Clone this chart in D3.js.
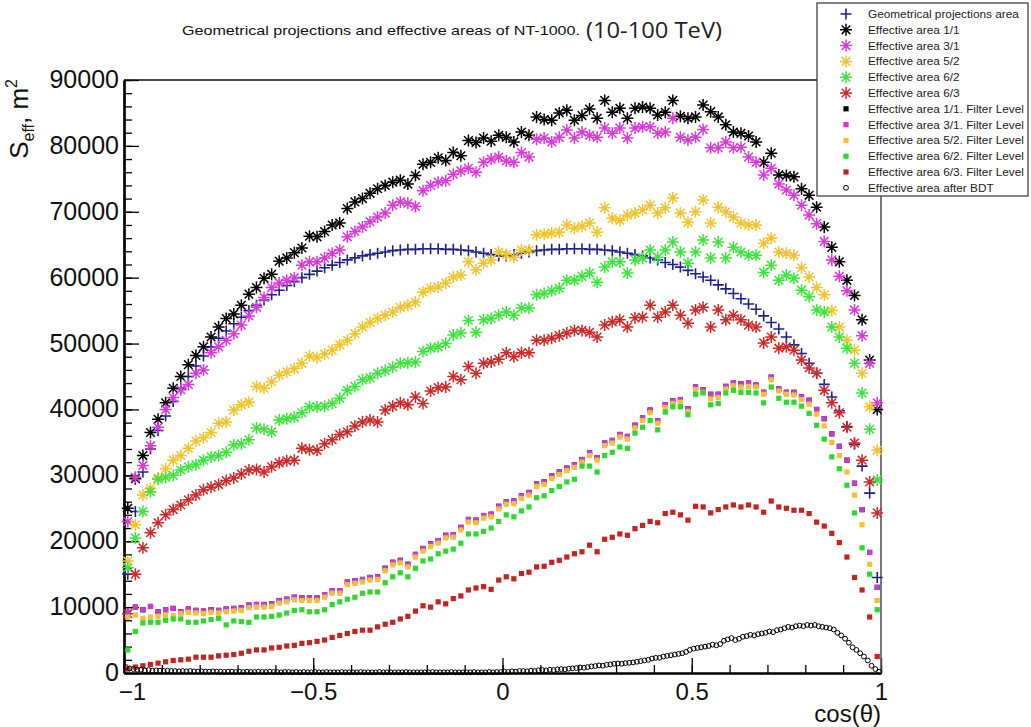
<!DOCTYPE html>
<html><head><meta charset="utf-8">
<script src="https://cdn.jsdelivr.net/npm/d3@7"></script>
<style>body{margin:0;background:#fff} svg{display:block}</style>
</head><body>
<svg id="c" width="1031" height="727"></svg>
<script>
// ---- data (values in thousands of m^2) ----
const geomArea=[15,24.5,30.5,34,36.8,39,41.2,43.2,45,46.6,48.1,49.5,50.8,51.9,53,54,55,55.8,56.6,57.4,58.1,58.8,59.4,60,60.5,61,61.5,61.9,62.3,62.7,63,63.3,63.5,63.7,63.9,64.1,64.2,64.3,64.3,64.4,64.4,64.4,64.3,64.3,64.2,64.1,63.9,63.7,63.5,63.3,
63.3,63.5,63.7,63.9,64.1,64.2,64.3,64.3,64.4,64.4,64.4,64.3,64.3,64.2,64.1,63.9,63.7,63.5,63.3,63,62.7,62.3,62,61.6,61.1,60.6,60.1,59.6,58.9,58.3,57.6,56.8,56,55.2,54.2,53.2,52.2,51,49.8,48.5,47,45.5,43.8,41.9,39.8,37.4,34.7,31.4,27.3,14.5];
const eff11=[25,29.5,33,36.5,38.5,41,43.2,45,46.8,48.2,49.5,51,52.5,53.8,54.5,55.8,57.5,58.5,59.9,60.5,62.5,63,63.8,64.5,66.3,66.2,67,68,68.3,70.5,71.5,72,72.8,73.5,74,74.5,74.8,74.2,75.5,77.2,77.5,78.2,77.8,79,78.5,80.8,80.5,81.2,80.7,81.6,
81.3,80.6,82.1,81.6,84.4,84,83.9,85,85.4,83.9,84.6,85.6,84.2,86.9,85.1,85.7,84.2,85.7,85.9,85.7,84.7,85.1,86.9,84.5,84.2,84.4,86.2,85.2,84.4,83.2,82.1,81.9,81.5,80.6,77.5,78.9,75.6,75.5,75.3,73.5,72.5,70.7,67.7,64.6,62.4,59.6,57.3,53.6,47.5,40];
const eff31=[23,29.7,31.5,34.5,37.3,40,41.8,43,43.8,45.5,46,48.6,49.5,50.5,51.5,52.8,54.2,55.5,57,58.5,59.2,59.6,60,61.9,62.4,62.4,63,63.7,64.2,66.2,67,67.7,68.5,69.2,69.8,71,71.5,71.3,70.8,73.2,74,74.5,74.7,75.7,76.2,76.6,76,77.5,78,78.3,
77.7,77.5,79,78.3,81,81.2,80.6,81.3,82.4,81.2,82.1,81.6,81.3,82.7,81.9,82.7,81.2,82.7,82.9,82.9,81.9,82.1,84.2,81.3,80.9,81.3,82.5,79.7,79.7,80.6,79.7,79.8,78.3,77.5,75.6,76.6,74.2,73.3,72.5,71,69.5,68.2,65.5,62.7,60.2,58,55.1,51.2,47,41];
const eff52=[17,22.5,27,28,29.6,31,32.3,33,34.1,35.2,35.7,36.5,37.9,38.1,39.9,40.7,41.1,43.5,43.2,44.2,45.2,45.7,46.2,47,48.1,47.9,48.4,49,49.8,50.5,51.5,52.5,53.2,53.8,54.3,54.8,55.5,55.8,56.3,57.8,58.4,58.6,59.2,60.1,60.4,62.4,61.2,62.2,62.7,63.9,
63.5,63.1,64.2,64.2,66.5,66.6,66.8,66.9,68,67.5,67.8,68.3,66.9,70.6,69,68.7,69.5,69.8,70.3,71,69.8,70.6,72.1,69.8,68.4,70,71.8,68.3,70.7,70,69.2,68.3,68,68,65.2,66,63.9,63.7,63.4,61.5,60.1,58.5,57.4,55,52.5,50.5,49,45.5,40.4,33.8];
const eff62=[16,20.5,24.5,27.5,29.4,29.7,30,30.8,31.3,31.6,32.3,32.8,33,33.5,34.6,34.8,35.4,37.2,37,36.6,38.4,38.6,38.8,39.5,40.4,40.4,40.5,40.9,41.7,42.9,43.5,44.5,44.8,45.5,45.9,46.4,47,47.1,47.2,48.8,49.3,49.5,50,51.3,51.6,53.5,51.7,53.6,53.8,54.3,
54.8,54.3,55.4,55.4,57.4,57.6,58,58.4,59.6,59.6,60.2,60.7,59.3,61.6,62.4,62.4,60.7,62.7,63,64.2,63.1,64.2,65.4,63.9,62.2,63.9,65.7,63,65.4,63,64.6,63.9,63.4,63.4,60.8,61.9,59.6,60.4,59.9,58.1,57.1,55.1,54.8,52.5,51,49.3,47,42.5,37,29.3];
const eff63=[9,15,19,21.3,22.8,24,24.8,25.5,26.3,27,27.8,28.2,28.6,29.2,29.6,30.2,30.8,30.9,30.5,31.3,31.9,32.2,32.3,34.1,33.9,33.8,34.8,35.4,36.2,36.6,37.5,38.1,38.4,38.1,39.9,40.5,41,40.7,41.9,40.9,42.8,43.3,43.4,45,44.5,46.5,45.5,47,47.2,47.6,
48.6,48,48.6,48.6,50.5,50.5,50.8,51.2,51.6,52,52,51.7,51,52.8,53.3,53.6,52.5,53.9,54,55.8,54,54.8,55.8,54.3,53.1,55.1,55.5,52.5,55.1,53.6,54.3,53.6,52.8,52.5,50.1,51,49.3,49.5,49,47.5,46.3,45.5,42.9,41,39.5,37.3,34.9,32.3,29,24.3];
const filt11=[9.2,10,9.6,10.1,9.3,9.6,9.8,9.3,9.7,9.5,9.4,9.6,9.5,9.7,9.8,9.9,10.3,10.4,10.4,10.5,11,11.2,11.5,11.4,11.4,11.4,11.9,12.5,12.5,13.8,14,14.2,14.5,14.6,15.9,16.8,17.1,16.5,18,18.9,19.6,20.1,20.9,21,22.1,23.3,23.2,23.9,24.1,25.3,
26,26.1,26.9,27.4,28.7,29,29.9,30.5,31.1,31.6,32.4,33.4,32.7,34.9,35.3,36.2,35.9,37.6,38.7,39.9,38.3,40.7,41.3,41.5,40.1,43.4,43,42.3,42.3,43.5,44,43.9,44,43.7,42.6,44.9,43.1,42.6,42.6,41.9,41.4,40,38.6,36.3,34.4,32.3,28.8,24.8,18.3,13];
const filt31=[9.2,10,9.6,10.1,9.3,9.6,9.8,9.3,9.7,9.5,9.4,9.6,9.5,9.7,9.8,9.9,10.3,10.4,10.4,10.5,11,11.2,11.5,11.4,11.4,11.4,11.9,12.5,12.5,13.8,14,14.2,14.5,14.6,15.9,16.8,17.1,16.5,18,18.9,19.6,20.1,20.9,21,22.1,23.3,23.2,23.9,24.1,25.3,
26,26.1,26.9,27.4,28.7,29,29.9,30.5,31.1,31.6,32.4,33.4,32.7,34.9,35.3,36.2,35.9,37.6,38.7,39.9,38.3,40.7,41.3,41.5,40.1,43.4,43,42.3,42.3,43.5,44,43.9,44,43.7,42.6,44.9,43.1,42.6,42.6,41.9,41.4,40,38.6,36.3,34.4,32.3,28.8,24.8,18.3,13];
const filt52=[8.5,8.8,8.3,8.5,8.6,8.8,8.7,9,9.2,9.1,9,9.2,9.1,9.3,9.4,9.5,9.9,10,10,10.1,10.6,10.8,11.1,11,11,11,11.5,12.1,12.1,13.4,13.6,13.8,14.1,14.2,15.5,16.4,16.7,16.1,17.6,18.5,19.2,19.7,20.5,20.6,21.7,22.9,22.8,23.5,23.7,24.9,
25.6,25.7,26.5,27,28.3,28.6,29.5,30.1,30.7,31.2,32,33,32.3,34.5,34.9,35.8,35.5,37.2,38.3,39.5,37.9,40.3,40.9,41.1,39.7,43,42.6,41.6,41.8,43.1,43.6,43.4,43.5,43.4,42.3,44.5,42.8,42.3,42.2,41.5,40.8,39.3,37.5,35,33,30.5,27,22.5,16.5,11];
const filt62=[3.5,6.3,7.6,7.7,7.7,8,8.2,8.2,7.7,7.7,7.9,8.1,8.3,7.3,7.9,7.8,7.7,8.5,8.5,8.6,8.8,9.1,9.5,9.6,9.3,9.3,9.6,10.4,10.8,11.2,11.5,12.1,12.3,12.3,13.7,14.6,15.2,14.6,15.9,17,17.3,18.1,18.5,18.8,19.7,21.1,21.1,21.5,22,23,
24,23.7,24.6,25.2,26.6,26.9,27.7,28.3,29,29.4,31.4,31.4,30.5,33,33.5,34.3,34.1,36.4,37.3,38.3,36.9,39.6,40.4,40.4,39.2,42.3,42.5,40.7,40.9,42.5,42.9,42.6,42.6,42.5,41,43.4,41.7,41.1,41.1,40.5,39.4,37.6,35.5,32.8,31,28.5,24.3,19,15,9.6];
const filt63=[0.6,0.9,1.1,1.3,1.5,1.7,1.9,2,2.1,2.4,2.4,2.4,2.6,2.7,2.8,3,3.3,3.5,3.5,3.8,3.9,4.1,4.2,4.5,4.6,4.8,5,5.4,5.7,6,6.3,6.5,6.5,7,7.4,7.7,8.2,8.6,9.4,10.2,10,10.8,10.5,11.3,11.7,12.6,12.9,13.1,12.7,14.1,
14.6,14.3,15.1,15.3,16.1,16.2,16.8,17.1,17.6,18.1,18.4,19.4,18.4,20.3,20.6,21.1,20.9,21.9,22.4,23,22.8,24.2,24.4,24,23.2,25.3,25.2,24.3,24.8,25.2,25.5,25.2,25.5,25.2,24.4,26.1,25.2,25,24.7,24.7,24.2,22.9,22.3,21.2,19.8,17.6,14.5,12.6,8.5,2.5];
const afterBDT=[0.9,0.7,0.6,0.5,0.5,0.4,0.45,0.35,0.4,0.35,0.3,0.35,0.3,0.3,0.25,0.3,0.25,0.3,0.25,0.2,
0.25,0.2,0.2,0.25,0.2,0.2,0.15,0.2,0.2,0.15,0.2,0.15,0.2,0.15,0.15,0.2,0.15,0.15,0.2,0.15,
0.15,0.1,0.15,0.15,0.1,0.15,0.1,0.15,0.1,0.1,0.15,0.1,0.1,0.15,0.1,0.1,0.1,0.15,0.1,0.1,
0.1,0.1,0.15,0.1,0.1,0.1,0.1,0.15,0.1,0.1,0.1,0.1,0.1,0.1,0.15,0.1,0.1,0.1,0.1,0.1,
0.1,0.15,0.1,0.1,0.1,0.1,0.15,0.1,0.1,0.1,0.1,0.1,0.15,0.1,0.1,0.1,0.15,0.1,0.15,0.15,
0.2,0.15,0.25,0.2,0.3,0.3,0.25,0.35,0.3,0.4,0.45,0.4,0.5,0.45,0.55,0.6,0.55,0.65,0.7,0.75,
0.85,0.8,0.9,1.0,1.05,1.15,1.1,1.25,1.3,1.4,1.45,1.4,1.5,1.55,1.6,1.7,1.8,1.9,2.0,2.2,
2.3,2.3,2.5,2.6,2.7,2.8,2.9,3.0,3.2,3.5,3.7,3.8,3.9,4.0,4.1,4.3,4.2,4.4,4.9,5.1,
5.3,5.0,5.2,5.5,5.6,5.8,5.7,5.9,6.0,6.1,6.3,6.2,6.5,6.6,6.8,7.0,6.9,7.1,7.2,7.1,
7.3,7.2,7.3,7.1,7.0,6.9,6.8,6.6,6.1,5.7,5.2,4.6,3.9,3.5,3.0,2.5,1.9,1.1,0.6,0.2];
const xTicksMajor=[-1,-0.5,0,0.5,1];
const yTicksMajor=[0,10000,20000,30000,40000,50000,60000,70000,80000,90000];
const legendLabels=['Geometrical projections area','Effective area 1/1','Effective area 3/1','Effective area 5/2','Effective area 6/2','Effective area 6/3',
'Effective area 1/1. Filter Level','Effective area 3/1. Filter Level','Effective area 5/2. Filter Level','Effective area 6/2. Filter Level','Effective area 6/3. Filter Level','Effective area after BDT'];

// ---- layout ----
const svg=d3.select('#c');
const x=d3.scaleLinear().domain([-1,1]).range([124,881]);
const y=d3.scaleLinear().domain([0,90000]).range([673,80]);
const bins100=d3.range(100).map(i=>-0.99+0.02*i);
const bins200=d3.range(200).map(i=>-0.995+0.01*i);
const FONT="'Liberation Sans', Arial, Helvetica, sans-serif";

const C={blue:'#1f1f8e',black:'#000',mag:'#d93ad9',yel:'#f0c42c',grn:'#3ee43e',red:'#cc2a2a',
  magS:'#cc3acc',yelS:'#f2c03e',grnS:'#2ed82e',redS:'#c62222'};

const series=[
 {v:geomArea,b:bins100,t:'plus',c:C.blue},
 {v:eff11,b:bins100,t:'star',c:C.black},
 {v:eff31,b:bins100,t:'star',c:C.mag},
 {v:eff52,b:bins100,t:'star',c:C.yel},
 {v:eff62,b:bins100,t:'star',c:C.grn},
 {v:eff63,b:bins100,t:'star',c:C.red},
 {v:filt11,b:bins100,t:'sq',c:C.black},
 {v:filt31,b:bins100,t:'sq',c:C.magS},
 {v:filt52,b:bins100,t:'sq',c:C.yelS},
 {v:filt62,b:bins100,t:'sq',c:C.grnS},
 {v:filt63,b:bins100,t:'sq',c:C.redS},
 {v:afterBDT,b:bins200,t:'circ',c:C.black}
];

const STAR='M-6,0H6M0,-6V6M-4.3,-4.3L4.3,4.3M-4.3,4.3L4.3,-4.3';
const PLUS='M-5.5,0H5.5M0,-5.5V5.5';
function drawMarker(g,t,c){
  if(t==='star') g.append('path').attr('d',STAR).attr('stroke',c).attr('stroke-width',1.5).attr('fill','none');
  else if(t==='plus') g.append('path').attr('d',PLUS).attr('stroke',c).attr('stroke-width',1.6).attr('fill','none');
  else if(t==='sq') g.append('rect').attr('x',-2.6).attr('y',-2.6).attr('width',5.2).attr('height',5.2).attr('fill',c);
  else g.append('circle').attr('r',2.4).attr('fill','none').attr('stroke',c).attr('stroke-width',1);
}

// ---- axes ----
const fmt=d=>d===0?'0':(d<0?'\u2212':'')+Math.abs(d);
const gxMinor=svg.append('g').attr('transform','translate(0,673)')
  .call(d3.axisBottom(x).tickValues(d3.range(-10,11).map(k=>k/10)).tickSize(-8).tickSizeOuter(0).tickFormat(''));
const gx=svg.append('g').attr('transform','translate(0,673)')
  .call(d3.axisBottom(x).tickValues(xTicksMajor).tickSize(-15).tickSizeOuter(0).tickPadding(10).tickFormat(fmt));
const gyMinor=svg.append('g').attr('transform','translate(124,0)')
  .call(d3.axisLeft(y).tickValues(d3.range(0,90001,2000)).tickSize(-8).tickSizeOuter(0).tickFormat(''));
const gy=svg.append('g').attr('transform','translate(124,0)')
  .call(d3.axisLeft(y).tickValues(yTicksMajor).tickSize(-15).tickSizeOuter(0).tickPadding(5).tickFormat(d3.format('d')));
[gxMinor,gx,gyMinor,gy].forEach(g=>{
  g.selectAll('.tick line').attr('stroke','#000').attr('stroke-width',1.3);
  g.select('.domain').attr('stroke','#000').attr('stroke-width',2.2);
  g.selectAll('text').attr('font-family',FONT).attr('font-size',25).attr('fill','#111');
});
gx.selectAll('text').attr('font-size',24).attr('dx',d=>d===-1?8:0);
gy.selectAll('text').attr('dy','0.3em');

// frame (top & right)
svg.append('line').attr('x1',x(-1)).attr('x2',x(1)).attr('y1',y(90000)).attr('y2',y(90000)).attr('stroke','#111').attr('stroke-width',1.6);
svg.append('line').attr('x1',x(1)).attr('x2',x(1)).attr('y1',y(90000)).attr('y2',y(0)).attr('stroke','#555').attr('stroke-width',1.6);

// ---- marks ----
series.forEach(s=>{
  const g=svg.append('g');
  s.v.forEach((v,i)=>{
    const m=g.append('g').attr('transform',`translate(${x(s.b[i])},${y(v*1000)})`);
    drawMarker(m,s.t,s.c);
  });
});

// ---- titles ----
svg.append('text').attr('x',182).attr('y',35).attr('font-family',FONT).attr('font-size',13.5).attr('fill','#111')
  .attr('textLength',398).attr('lengthAdjust','spacingAndGlyphs')
  .text('Geometrical projections and effective areas of NT-1000.');
svg.append('text').attr('x',586).attr('y',38).attr('font-family',"'Open Sans','Noto Sans',sans-serif").attr('font-size',21).attr('fill','#222')
  .attr('textLength',136).attr('lengthAdjust','spacingAndGlyphs').text('(10-100 TeV)');

const yt=svg.append('text').attr('transform','translate(28,79) rotate(-90)').attr('text-anchor','end')
  .attr('font-family',FONT).attr('font-size',26).attr('fill','#111');
yt.append('tspan').text('S');
yt.append('tspan').attr('font-size',16).attr('dy',6).text('eff');
yt.append('tspan').attr('dy',-6).text(', m');
yt.append('tspan').attr('font-size',16).attr('dy',-11).text('2');

svg.append('text').attr('x',881).attr('y',722).attr('text-anchor','end').attr('font-family',FONT)
  .attr('font-size',24).attr('fill','#111').text('cos(\u03b8)');

// ---- legend ----
const L={x0:817,y0:3,x1:1028,y1:196};
svg.append('defs').append('clipPath').attr('id','lc').append('rect')
  .attr('x',L.x0).attr('y',L.y0).attr('width',L.x1-L.x0-1).attr('height',L.y1-L.y0);
svg.append('rect').attr('x',L.x0).attr('y',L.y0).attr('width',L.x1-L.x0).attr('height',L.y1-L.y0)
  .attr('fill','#fff').attr('stroke','#333').attr('stroke-width',1.2);
const lg=svg.append('g').attr('clip-path','url(#lc)');
legendLabels.forEach((lab,i)=>{
  const yy=14+15.8*i;
  const m=lg.append('g').attr('transform',`translate(846,${yy})`);
  drawMarker(m,series[i].t,series[i].c);
  lg.append('text').attr('x',868).attr('y',yy+4).attr('font-family',FONT).attr('font-size',11.8).attr('fill','#222').text(lab);
});
</script>
</body></html>
